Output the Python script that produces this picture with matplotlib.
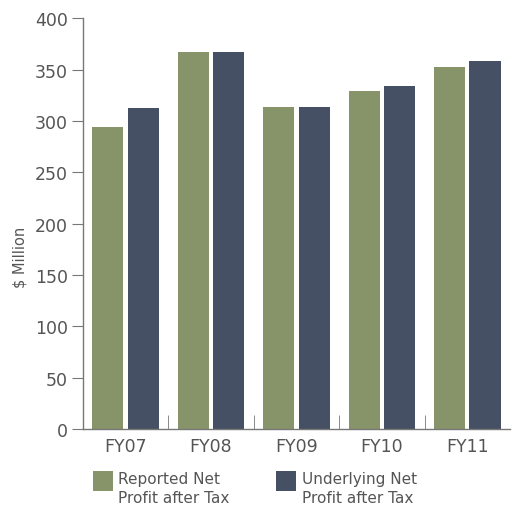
import numpy as np
import matplotlib
matplotlib.use("Agg")
import matplotlib.pyplot as plt
from matplotlib.patches import Rectangle

years = ["FY07", "FY08", "FY09", "FY10", "FY11"]
reported = [294, 367, 314, 329, 353]
underlying = [313, 367, 314, 334, 358]
series_names = ["Reported Net\nProfit after Tax", "Underlying Net\nProfit after Tax"]

green = "#879469"
navy = "#465064"
grey = "#555555"

fig = plt.figure(figsize=(5.12, 5.10), dpi=100)
ax = fig.add_axes([0.162, 0.157, 0.834, 0.805])

x = np.arange(len(years))
w = 0.365
ax.bar(x - 0.208, reported, w, color=green)
ax.bar(x + 0.208, underlying, w, color=navy)

ax.set_xlim(-0.5, len(years) - 0.5)
ax.set_ylim(0, 400)
ax.set_yticks(np.arange(0, 401, 50))
ax.set_xticks(x)
ax.set_xticklabels(years)
ax.set_xticks(np.arange(0.5, len(years) - 0.5, 1), minor=True)

for s in ["top", "right"]:
    ax.spines[s].set_visible(False)
for s in ["left", "bottom"]:
    ax.spines[s].set_color("#777777")
    ax.spines[s].set_linewidth(1)

ax.tick_params(axis="x", which="major", length=0, pad=6, labelsize=12.5, labelcolor=grey)
ax.tick_params(axis="x", which="minor", direction="in", length=10, color="#777777")
ax.tick_params(axis="y", length=8, color="#777777", labelsize=12.5, labelcolor=grey, pad=3)

ax.set_ylabel("$ Million", fontsize=10.5, color=grey)
ax.yaxis.set_label_coords(-0.13, 0.42)

# legend drawn by hand so the square sits level with the first text line
for (sx, tx), col, name in zip([(0.1816, 0.2305), (0.539, 0.590)], [green, navy], series_names):
    fig.add_artist(Rectangle((sx, 0.0353), 0.039, 0.0392, transform=fig.transFigure,
                             color=col, lw=0))
    fig.text(tx, 0.074, name, ha="left", va="top", fontsize=11, color=grey,
             linespacing=1.3)

fig.savefig("out.png", dpi=100)
